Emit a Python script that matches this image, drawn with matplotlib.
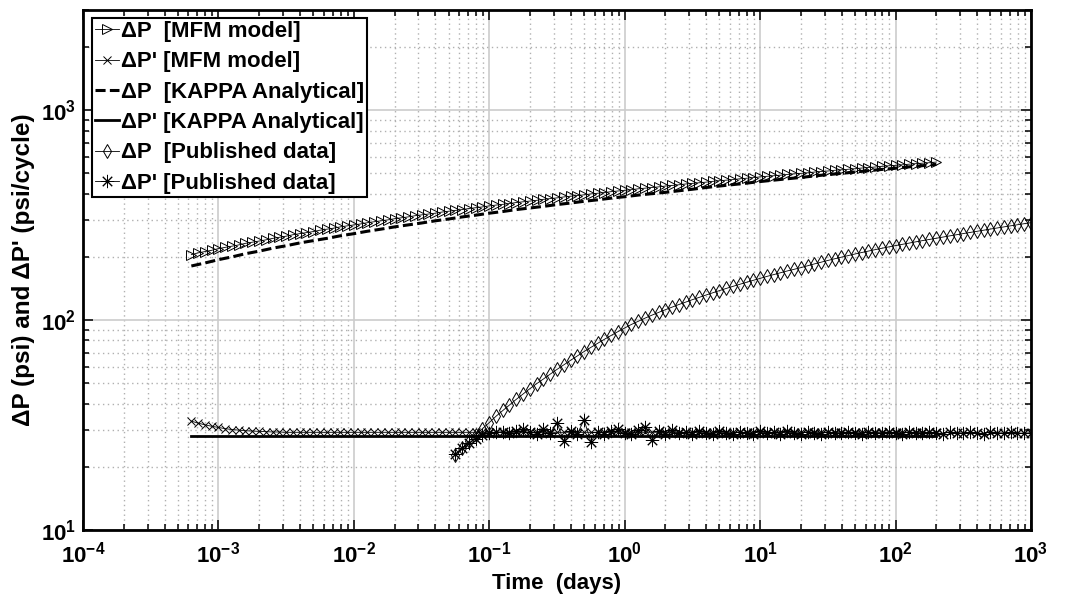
import matplotlib
matplotlib.use('Agg')
import matplotlib.pyplot as plt
from matplotlib.ticker import LogLocator, NullFormatter, LogFormatterSciNotation

# ---- data ----
# MFM model (time in days)
t_model = [6.31e-4, 7.08e-4, 7.94e-4, 8.91e-4,
           1.00e-3, 1.12e-3, 1.26e-3, 1.41e-3, 1.58e-3, 1.78e-3, 2.00e-3, 2.24e-3, 2.51e-3, 2.82e-3,
           3.16e-3, 3.55e-3, 3.98e-3, 4.47e-3, 5.01e-3, 5.62e-3, 6.31e-3, 7.08e-3, 7.94e-3, 8.91e-3,
           1.00e-2, 1.12e-2, 1.26e-2, 1.41e-2, 1.58e-2, 1.78e-2, 2.00e-2, 2.24e-2, 2.51e-2, 2.82e-2,
           3.16e-2, 3.55e-2, 3.98e-2, 4.47e-2, 5.01e-2, 5.62e-2, 6.31e-2, 7.08e-2, 7.94e-2, 8.91e-2,
           1.00e-1, 1.12e-1, 1.26e-1, 1.41e-1, 1.58e-1, 1.78e-1, 2.00e-1, 2.24e-1, 2.51e-1, 2.82e-1,
           3.16e-1, 3.55e-1, 3.98e-1, 4.47e-1, 5.01e-1, 5.62e-1, 6.31e-1, 7.08e-1, 7.94e-1, 8.91e-1,
           1.00, 1.12, 1.26, 1.41, 1.58, 1.78, 2.00, 2.24, 2.51, 2.82,
           3.16, 3.55, 3.98, 4.47, 5.01, 5.62, 6.31, 7.08, 7.94, 8.91,
           10.0, 11.2, 12.6, 14.1, 15.8, 17.8, 20.0, 22.4, 25.1, 28.2,
           31.6, 35.5, 39.8, 44.7, 50.1, 56.2, 63.1, 70.8, 79.4, 89.1,
           100, 112, 126, 141, 158, 178, 200]
dp_mfm = [205, 209, 212, 215,
          219, 222, 225, 228, 232, 235, 238, 241, 245, 248,
          251, 255, 258, 261, 264, 268, 271, 274, 278, 281,
          284, 287, 291, 294, 297, 300, 304, 307, 310, 314,
          317, 320, 323, 327, 330, 333, 336, 340, 343, 346,
          350, 353, 356, 359, 363, 366, 369, 372, 376, 379,
          382, 386, 389, 392, 395, 399, 402, 405, 409, 412,
          415, 418, 422, 425, 428, 431, 435, 438, 441, 445,
          448, 451, 454, 458, 461, 464, 467, 471, 474, 477,
          481, 484, 487, 490, 494, 497, 500, 503, 507, 510,
          513, 517, 520, 523, 526, 530, 533, 536, 540, 543,
          546, 549, 553, 556, 559, 562, 566]
dpd_mfm = [33.0, 32.3, 31.7, 31.2,
           30.8, 30.4, 30.1, 29.9, 29.7, 29.6, 29.5, 29.4, 29.3, 29.3,
           29.2, 29.2, 29.2, 29.2, 29.2, 29.2, 29.2, 29.2, 29.2, 29.2,
           29.2, 29.2, 29.2, 29.2, 29.2, 29.2, 29.2, 29.2, 29.2, 29.2,
           29.2, 29.2, 29.2, 29.2, 29.2, 29.2, 29.2, 29.2, 29.2, 29.2,
           29.2, 29.2, 29.2, 29.2, 29.2, 29.2, 29.2, 29.2, 29.2, 29.2,
           29.2, 29.2, 29.2, 29.2, 29.2, 29.2, 29.2, 29.2, 29.2, 29.2,
           29.2, 29.2, 29.2, 29.2, 29.2, 29.2, 29.2, 29.2, 29.2, 29.2,
           29.2, 29.2, 29.2, 29.2, 29.2, 29.2, 29.2, 29.2, 29.2, 29.2,
           29.2, 29.2, 29.2, 29.2, 29.2, 29.2, 29.2, 29.2, 29.2, 29.2,
           29.2, 29.2, 29.2, 29.2, 29.2, 29.2, 29.2, 29.2, 29.2, 29.2,
           29.2, 29.2, 29.2, 29.2, 29.2, 29.2, 29.2]

# KAPPA analytical
t_kappa = [6.31e-4, 7.94e-4,
           1.00e-3, 1.26e-3, 1.58e-3, 2.00e-3, 2.51e-3, 3.16e-3, 3.98e-3, 5.01e-3, 6.31e-3, 7.94e-3,
           1.00e-2, 1.26e-2, 1.58e-2, 2.00e-2, 2.51e-2, 3.16e-2, 3.98e-2, 5.01e-2, 6.31e-2, 7.94e-2,
           1.00e-1, 1.26e-1, 1.58e-1, 2.00e-1, 2.51e-1, 3.16e-1, 3.98e-1, 5.01e-1, 6.31e-1, 7.94e-1,
           1.00, 1.26, 1.58, 2.00, 2.51, 3.16, 3.98, 5.01, 6.31, 7.94,
           10.0, 12.6, 15.8, 20.0, 25.1, 31.6, 39.8, 50.1, 63.1, 79.4,
           100, 126, 158, 200]
dp_kappa = [181, 187, 194, 200, 207, 213, 220, 226, 233, 239,
            245, 252, 258, 265, 271, 278, 284, 290, 297, 303,
            310, 316, 323, 329, 336, 342, 348, 355, 361, 368,
            374, 381, 387, 394, 400, 406, 413, 420, 428, 435,
            442, 449, 457, 464, 471, 478, 486, 493, 500, 507,
            515, 522, 529, 537, 544, 551]
t_kappa_d = [6.31e-4, 1e-3, 1e-2, 1e-1, 1.0, 10.0, 100.0, 200.0]
dpd_kappa = [28.0, 28.0, 28.0, 28.0, 28.0, 28.0, 28.0, 28.0]

# Published data
t_pub = [0.0562, 0.0631, 0.0708, 0.0794, 0.0891,
         0.100, 0.112, 0.126, 0.141, 0.158, 0.178, 0.200, 0.224, 0.251, 0.282,
         0.316, 0.355, 0.398, 0.447, 0.501, 0.562, 0.631, 0.708, 0.794, 0.891,
         1.00, 1.12, 1.26, 1.41, 1.58, 1.78, 2.00, 2.24, 2.51, 2.82,
         3.16, 3.55, 3.98, 4.47, 5.01, 5.62, 6.31, 7.08, 7.94, 8.91,
         10.0, 11.2, 12.6, 14.1, 15.8, 17.8, 20.0, 22.4, 25.1, 28.2,
         31.6, 35.5, 39.8, 44.7, 50.1, 56.2, 63.1, 70.8, 79.4, 89.1,
         100, 112, 126, 141, 158, 178, 200, 224, 251, 282,
         316, 355, 398, 447, 501, 562, 631, 708, 794, 891,
         1000]
dp_pub = [22.8, 24.6, 26.5, 28.4, 30.4,
          32.5, 34.8, 37.1, 39.4, 41.9, 44.5, 47.2, 49.8, 52.4, 55.3,
          58.2, 61.2, 64.3, 67.5, 70.8, 74.1, 77.5, 81.0, 84.5, 88.1,
          91.7, 95.3, 98.7, 102.1, 105.4, 108.8, 112.1, 115.3, 118.6, 121.8,
          125.1, 128.3, 131.6, 134.9, 138.2, 141.5, 144.8, 148.1, 151.4, 154.7,
          158.0, 161.4, 164.7, 168.0, 171.3, 174.5, 177.8, 181.4, 185.1, 188.7,
          192.3, 195.9, 199.4, 202.9, 206.4, 209.8, 213.2, 216.6, 219.9, 223.2,
          226.4, 229.5, 232.7, 235.9, 239.1, 242.2, 245.4, 248.6, 251.8, 255.0,
          258.3, 261.5, 264.7, 268.0, 271.3, 274.6, 277.9, 281.2, 284.5, 287.8,
          291.1]
dpd_pub = [23.0, 24.5, 26.0, 27.2, 28.3,
           28.9, 29.2, 29.4, 29.0, 29.6, 30.2, 29.3, 28.8, 30.3, 29.0,
           32.5, 26.4, 29.5, 28.7, 33.5, 26.3, 29.4, 28.8, 29.6, 30.3,
           29.1, 28.6, 29.8, 31.0, 26.8, 29.5, 28.7, 29.9, 28.9, 29.3,
           28.6, 29.7, 29.0, 28.8, 29.5, 29.1, 28.7, 29.4, 29.0, 28.8,
           29.6, 28.9, 29.2, 28.7, 29.5, 29.0, 28.8, 29.4, 29.1, 28.8,
           29.3, 29.0, 28.9, 29.4, 29.0, 28.7, 29.3, 29.1, 28.9, 29.4,
           29.0, 28.8, 29.3, 29.1, 28.9, 29.2, 29.0, 28.8, 29.3, 29.1,
           28.9, 29.2, 29.0, 28.8, 29.3, 29.1, 28.9, 29.2, 29.0, 28.9,
           29.1]

labels = ["\u0394P  [MFM model]", "\u0394P' [MFM model]",
          "\u0394P  [KAPPA Analytical]", "\u0394P' [KAPPA Analytical]",
          "\u0394P  [Published data]", "\u0394P' [Published data]"]
x_ticks = [1e-4, 1e-3, 1e-2, 1e-1, 1e0, 1e1, 1e2, 1e3]
y_ticks = [1e1, 1e2, 1e3]

# ---- style ----
plt.rcParams['font.family'] = ['Liberation Sans', 'DejaVu Sans']
plt.rcParams['font.weight'] = 'bold'
plt.rcParams['mathtext.fontset'] = 'custom'
plt.rcParams['mathtext.rm'] = 'Liberation Sans:bold'
plt.rcParams['mathtext.it'] = 'Liberation Sans:bold'
plt.rcParams['mathtext.bf'] = 'Liberation Sans:bold'
plt.rcParams['mathtext.default'] = 'bf'
plt.rcParams['axes.unicode_minus'] = False

fig = plt.figure(figsize=(10.69, 6.05), dpi=100)
ax = fig.add_axes([83/1069, 75/605, 948/1069, 520/605])

thin = dict(color='k', lw=0.6, mfc='none', mec='k', mew=0.7)
asterisk = (8, 2, 0)
ax.plot(t_model, dp_mfm, marker='>', ms=6.5, label=labels[0], **thin)
ax.plot(t_model, dpd_mfm, marker='x', ms=5.5, label=labels[1], **thin)
ax.plot(t_kappa, dp_kappa, color='k', lw=2.2, ls=(0, (3.3, 1.4)), label=labels[2])
ax.plot(t_kappa_d, dpd_kappa, color='k', lw=2.0, ls='-', label=labels[3])
ax.plot(t_pub, dp_pub, marker='d', ms=7.5, label=labels[4], **thin)
ax.plot(t_pub, dpd_pub, marker=asterisk, ms=9.5, label=labels[5], **thin)

ax.set_xscale('log')
ax.set_yscale('log')
ax.set_xticks(x_ticks)
ax.set_yticks(y_ticks)
ax.xaxis.set_major_formatter(LogFormatterSciNotation())
ax.yaxis.set_major_formatter(LogFormatterSciNotation())
ax.xaxis.set_minor_locator(LogLocator(base=10, subs=range(2, 10), numticks=100))
ax.yaxis.set_minor_locator(LogLocator(base=10, subs=range(2, 10), numticks=100))
ax.xaxis.set_minor_formatter(NullFormatter())
ax.yaxis.set_minor_formatter(NullFormatter())
ax.set_xlim(1e-4, 1e3)
ax.set_ylim(10, 3000)

ax.set_axisbelow(True)
ax.grid(True, which='major', color='#cccccc', lw=1.2, ls='-')
ax.grid(True, which='minor', color='#b0b0b0', lw=1.0, ls=(0, (1, 2.5)))

ax.tick_params(which='both', direction='in', top=True, right=True, width=1.1, labelsize=16)
ax.tick_params(which='major', length=7)
ax.tick_params(which='minor', length=4)
ax.tick_params(axis='x', pad=8)
ax.tick_params(axis='y', pad=5)
for s in ax.spines.values():
    s.set_linewidth(2)

ax.set_xlabel('Time  (days)', fontsize=16, fontweight='bold', labelpad=4)
ax.set_ylabel("\u0394P (psi) and \u0394P' (psi/cycle)", fontsize=17.5, fontweight='bold', labelpad=4)

leg = ax.legend(loc='upper left', bbox_to_anchor=(0.0095, 0.985), borderaxespad=0,
                prop={'weight': 'bold', 'size': 16}, numpoints=1, handlelength=1.05,
                handletextpad=0.1, labelspacing=0.42, borderpad=0.15,
                fancybox=False, framealpha=1, edgecolor='k')
leg.get_frame().set_linewidth(1.5)

fig.savefig('out.png', dpi=100)
